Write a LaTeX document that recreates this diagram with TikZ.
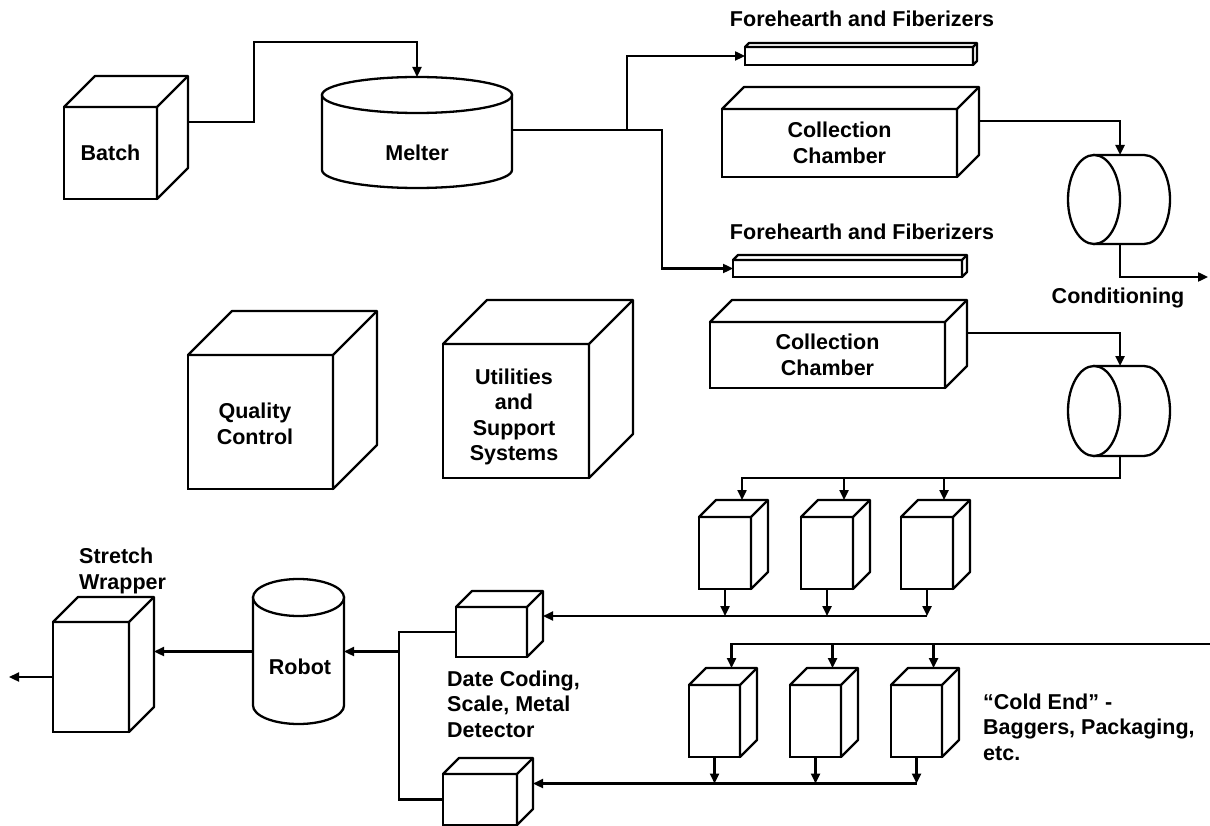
\documentclass[tikz,border=0pt]{standalone}
\usepackage{fontspec}
\setmainfont{Liberation Sans}
\usetikzlibrary{arrows.meta,calc}
\newcommand\mycube[7]{%
  \node[front, minimum width=#4pt, minimum height=#5pt, anchor=north west] (#1) at (#2,#3) {#7};
  \draw[face] (#1.north west) -- ++(#6,-#6) -- ++(#4,0) -- ++(0,#5) -- ++(-#6,#6) -- (#1.north east) -- cycle;
  \draw[face] (#1.north east) -- ++(#6,-#6);
  \coordinate (#1-tp) at ($(#1.north)+(#6,-#6)$);
  \coordinate (#1-rt) at ($(#1.east)+(#6,-#6)$);
}
\begin{document}
\begin{tikzpicture}[x=1pt,y=-1pt,
  every node/.style={font=\fontsize{21.5pt}{25.5pt}\selectfont\bfseries},
  front/.style={draw, fill=white, line width=2.3pt, rectangle, inner sep=0pt, outer sep=0pt, align=center},
  face/.style={draw, fill=white, line width=2.3pt, line join=round},
  anch/.style={rectangle, inner sep=0pt, outer sep=0pt},
  lbl/.style={inner sep=0pt, align=center},
  lbll/.style={inner sep=0pt, align=left, anchor=west},
  conn/.style={line width=2.3pt},
  arr/.style={conn, -{Triangle[length=10pt,width=9pt]}},
  cyl/.style={draw, fill=white, line width=2.3pt},
]
\fill[white] (0,0) rectangle (1210,826);
\useasboundingbox (0,0) rectangle (1210,826);

% ---- boxes ----
\mycube{batch}{64}{107}{93}{92}{31}{Batch}
\mycube{qc}{188}{355}{145}{134}{44}{}
\mycube{util}{443}{344}{146}{134}{44}{}
\mycube{fh1}{745}{47}{228}{18}{4}{}
\mycube{fh2}{733}{260}{229}{17}{5}{}
\mycube{cc1}{722}{109}{235}{68}{22}{Collection\\Chamber}
\mycube{cc2}{710}{322}{235}{66}{22}{Collection\\Chamber}
\mycube{pa1}{699}{517}{52}{72}{17}{}
\mycube{pa2}{801}{517}{52}{72}{17}{}
\mycube{pa3}{901}{517}{52}{72}{17}{}
\mycube{pb1}{689}{685}{51}{72}{17}{}
\mycube{pb2}{790}{685}{51}{72}{17}{}
\mycube{pb3}{891}{685}{51}{72}{17}{}
\mycube{db1}{456}{607}{71}{50}{16}{}
\mycube{db2}{443}{774}{74}{51}{16}{}
\mycube{sw}{53}{622}{76}{110}{25}{}

% ---- melter ----
\node[anch, minimum width=190pt, minimum height=111pt] (melter) at (417,132.5) {};
\draw[cyl] (322,95) -- (322,170) arc[start angle=180,end angle=360,x radius=95pt,y radius=18pt] -- (512,95) -- cycle;
\draw[cyl] (417,95) ellipse [x radius=95pt, y radius=18pt];
\node[lbl] (meltertxt) at (417,153) {Melter};

% ---- robot ----
\node[anch, minimum width=91pt, minimum height=145pt] (robot) at (298.5,651.5) {};
\draw[cyl] (253,597.5) -- (253,705.5) arc[start angle=180,end angle=360,x radius=45.5pt,y radius=18.5pt] -- (344,597.5) -- cycle;
\draw[cyl] (298.5,597.5) ellipse [x radius=45.5pt, y radius=18.5pt];
\node[lbl] (robottxt) at (300,667) {Robot};

% ---- conditioning cylinders ----
\node[anch, minimum width=52pt, minimum height=89pt] (cond1) at (1094,199.5) {};
\draw[cyl] (1094,155) -- (1144,155) arc[start angle=90,end angle=-90,x radius=26pt,y radius=44.5pt] -- (1094,244) -- cycle;
\draw[cyl] (1094,199.5) ellipse [x radius=26pt, y radius=44.5pt];
\node[anch, minimum width=52pt, minimum height=90pt] (cond2) at (1094,411) {};
\draw[cyl] (1094,366) -- (1144,366) arc[start angle=90,end angle=-90,x radius=26pt,y radius=45pt] -- (1094,456) -- cycle;
\draw[cyl] (1094,411) ellipse [x radius=26pt, y radius=45pt];

% ---- labels ----
\node[lbl] (fhtxt1) at (862,19) {Forehearth and Fiberizers};
\node[lbl] (fhtxt2) at (862,232) {Forehearth and Fiberizers};
\node[lbl] (condtxt) at (1118,298) {Conditioning};
\node[lbl] (qctxt) at (255,424) {Quality\\Control};
\node[lbl] (utiltxt) at (514,417) {Utilities\\and\\Support\\Systems};
\node[lbll] (swtxt) at (79,571) {Stretch\\Wrapper};
\node[lbll] (dbtxt) at (447,704) {Date Coding,\\Scale, Metal\\Detector};
\node[lbll] (coldtxt) at (983,727) {“Cold End” -\\Baggers, Packaging,\\etc.};

% ---- connectors ----
\draw[arr] (batch-rt) -| (254,42) -| (melter.north);
\coordinate (mout) at ([yshift=2.5pt]melter.east);
\draw[arr] (mout) -- (627,130) |- (fh1.west);
\draw[arr] (mout) -- (662,130) |- (fh2.west);

\draw[arr] (cc1-rt) -| (cond1.north east);
\coordinate (condout) at (1208,277);
\draw[arr] (cond1.south east) |- (condout);
\draw[arr] (cc2-rt) -| (cond2.north east);

\coordinate (bus1) at ([yshift=-22pt]cond2.south east);
\draw[arr] (cond2.south east) -- (bus1) -| (pa1-tp);
\draw[arr] (bus1 -| pa2-tp) -- (pa2-tp);
\draw[arr] (bus1 -| pa3-tp) -- (pa3-tp);

\draw[arr] (pa1.south) -- (pa1.south |- db1-rt);
\draw[arr] (pa2.south) -- (pa2.south |- db1-rt);
\draw[arr] (pa3.south) -- (pa3.south |- db1-rt);
\draw[arr] (pa3.south |- db1-rt) -- (db1-rt);

\coordinate (coldin) at (1210,644);
\draw[arr] (coldin) -| (pb1-tp);
\draw[arr] (coldin -| pb2-tp) -- (pb2-tp);
\draw[arr] (coldin -| pb3-tp) -- (pb3-tp);

\draw[arr] (pb1.south) -- (pb1.south |- db2-rt);
\draw[arr] (pb2.south) -- (pb2.south |- db2-rt);
\draw[arr] (pb3.south) -- (pb3.south |- db2-rt);
\draw[arr] (pb3.south |- db2-rt) -- (db2-rt);

\coordinate (jn) at ($(db1.west)+(-57,0)$);
\draw[conn] (db1.west) -- (jn) |- (db2.west);
\draw[arr] (robot.east -| jn) -- (robot.east);
\draw[arr] (robot.west) -- (robot.west -| sw-rt);
\coordinate (swout) at (9,677);
\draw[arr] (sw.west) -- (swout);
\end{tikzpicture}
\end{document}
